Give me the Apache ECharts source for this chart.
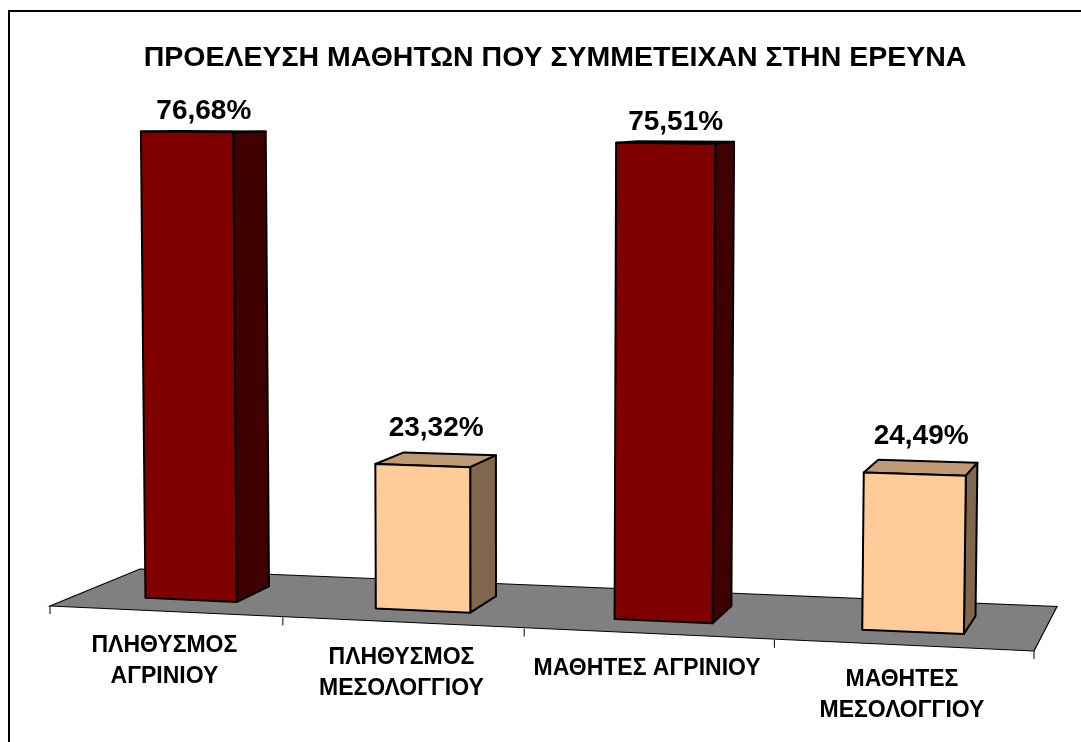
<!DOCTYPE html>
<html>
<head>
<meta charset="utf-8">
<title>ΠΡΟΕΛΕΥΣΗ ΜΑΘΗΤΩΝ</title>
<style>
html, body { margin: 0; padding: 0; background: #fff; }
#chart { width: 1081px; height: 742px; }
</style>
<script src="https://cdn.jsdelivr.net/npm/echarts@6/dist/echarts.min.js"></script>
</head>
<body>
<div id="chart"></div>
<script>
var titleText = 'ΠΡΟΕΛΕΥΣΗ ΜΑΘΗΤΩΝ ΠΟΥ ΣΥΜΜΕΤΕΙΧΑΝ ΣΤΗΝ ΕΡΕΥΝΑ';
var categories = ['ΠΛΗΘΥΣΜΟΣ\nΑΓΡΙΝΙΟΥ', 'ΠΛΗΘΥΣΜΟΣ\nΜΕΣΟΛΟΓΓΙΟΥ', 'ΜΑΘΗΤΕΣ ΑΓΡΙΝΙΟΥ', 'ΜΑΘΗΤΕΣ\nΜΕΣΟΛΟΓΓΙΟΥ'];
var values = [76.68, 23.32, 75.51, 24.49];
var faceColors = ['#800000', '#FFCC99', '#800000', '#FFCC99'];
var sideColors = ['#400000', '#80664D', '#400000', '#80664D'];
var topColors = ['#600000', '#BF9973', '#600000', '#BF9973'];

var fontFamily = '"Liberation Sans", Arial, sans-serif';

// floor outline of the 3d plot, in pixels
var floorFront = { x0: 50, x1: 1034, y0: 606, y1: 651 };
var floorBack = { x0: 140, x1: 1057, y0: 569, y1: 606.5 };
var warp = -0.07;     // perspective along the category axis
var depthFront = 0.31; // bars stand between these floor depths
var depthBack = 0.72;
var barShare = 0.4;   // bar width as a share of its category

var chartDom = document.getElementById('chart');
var chart = echarts.init(chartDom);

function edgeX(edge, s) {
    var a = edge.x1 * (1 + warp) - edge.x0;
    return (a * s + edge.x0) / (1 + warp * s);
}

// s: 0..1 along the front edge, d: 0..1 into the depth, h: bar height in grid pixels
function project(s, d, h) {
    var fx = edgeX(floorFront, s);
    var bx = edgeX(floorBack, s);
    var fy = floorFront.y0 + (floorFront.y1 - floorFront.y0) * s;
    var by = floorBack.y0 + (floorBack.y1 - floorBack.y0) * s;
    var grow = (1.008 + 0.075 * s) * (1 - 0.078 * (d - depthFront));
    var height = h * grow;
    return [
        fx + (bx - fx) * d + height * (s - 0.45) * 0.026,
        fy + (by - fy) * d - height
    ];
}

function renderBar(params, api) {
    var i = api.value(0);
    var v = api.value(1);
    var left = params.coordSys.x;
    var width = params.coordSys.width;
    var mid = (api.coord([i, 0])[0] - left) / width;
    var half = api.size([1, 0])[0] / width * barShare / 2;
    var h = api.coord([i, 0])[1] - api.coord([i, v])[1];
    var s0 = mid - half;
    var s1 = mid + half;

    function poly(points, fill) {
        return {
            type: 'polygon',
            shape: { points: points },
            style: { fill: fill, stroke: '#000', lineWidth: 2, lineJoin: 'round' }
        };
    }

    var topMid = project(mid, (depthFront + depthBack) / 2, h);
    return {
        type: 'group',
        children: [
            poly([project(s0, depthBack, h), project(s1, depthBack, h), project(s1, depthFront, h), project(s0, depthFront, h)], topColors[i]),
            poly([project(s1, depthFront, 0), project(s1, depthBack, 0), project(s1, depthBack, h), project(s1, depthFront, h)], sideColors[i]),
            poly([project(s0, depthFront, 0), project(s1, depthFront, 0), project(s1, depthFront, h), project(s0, depthFront, h)], faceColors[i]),
            {
                type: 'text',
                style: {
                    text: String(v.toFixed(2)).replace('.', ',') + '%',
                    x: topMid[0],
                    y: topMid[1] - (37 - 0.22 * v),
                    align: 'center',
                    verticalAlign: 'middle',
                    font: 'bold 28px ' + fontFamily,
                    fill: '#000'
                }
            }
        ]
    };
}

function renderFloor(params, api) {
    if (params.dataIndex !== 0) {
        return;
    }
    var count = categories.length;
    var children = [{
        type: 'polygon',
        shape: { points: [project(0, 0, 0), project(1, 0, 0), project(1, 1, 0), project(0, 1, 0)] },
        style: { fill: '#808080', stroke: '#000', lineWidth: 1.2 }
    }];
    for (var i = 0; i <= count; i++) {
        var p = project(i / count, 0, 0);
        children.push({
            type: 'line',
            shape: { x1: p[0], y1: p[1], x2: p[0], y2: p[1] + 8 },
            style: { stroke: '#000', lineWidth: 1 }
        });
    }
    return { type: 'group', children: children };
}

function renderCategory(params, api) {
    var i = api.value(0);
    var p = project((i + 0.5) / categories.length, 0, 0);
    return {
        type: 'text',
        style: {
            text: categories[i],
            x: p[0] - 1,
            y: p[1] + 19,
            align: 'center',
            verticalAlign: 'top',
            font: 'bold 23px ' + fontFamily,
            lineHeight: 31,
            fill: '#000'
        }
    };
}

var seriesData = [];
for (var i = 0; i < values.length; i++) {
    seriesData[i] = [i, values[i]];
}

const option = {
    animation: false,
    backgroundColor: '#fff',
    title: {
        text: titleText,
        left: 550,
        top: 39,
        textAlign: 'center',
        textStyle: { fontFamily: fontFamily, fontWeight: 'bold', fontSize: 28.5, color: '#000' }
    },
    graphic: [{
        type: 'rect',
        shape: { x: 9, y: 11, width: 1200, height: 900 },
        style: { fill: 'none', stroke: '#000', lineWidth: 2 },
        z: 0
    }],
    grid: { left: 50, right: 47, top: 40, bottom: 102 },
    xAxis: { type: 'category', data: categories, show: false },
    yAxis: { type: 'value', min: 0, max: 100, show: false },
    series: [
        { type: 'custom', renderItem: renderFloor, data: seriesData, z: 1, silent: true },
        { type: 'custom', renderItem: renderCategory, data: seriesData, z: 1, silent: true },
        { type: 'custom', renderItem: renderBar, data: seriesData, z: 2, encode: { x: 0, y: 1 } }
    ]
};

option && chart.setOption(option);
</script>
</body>
</html>
